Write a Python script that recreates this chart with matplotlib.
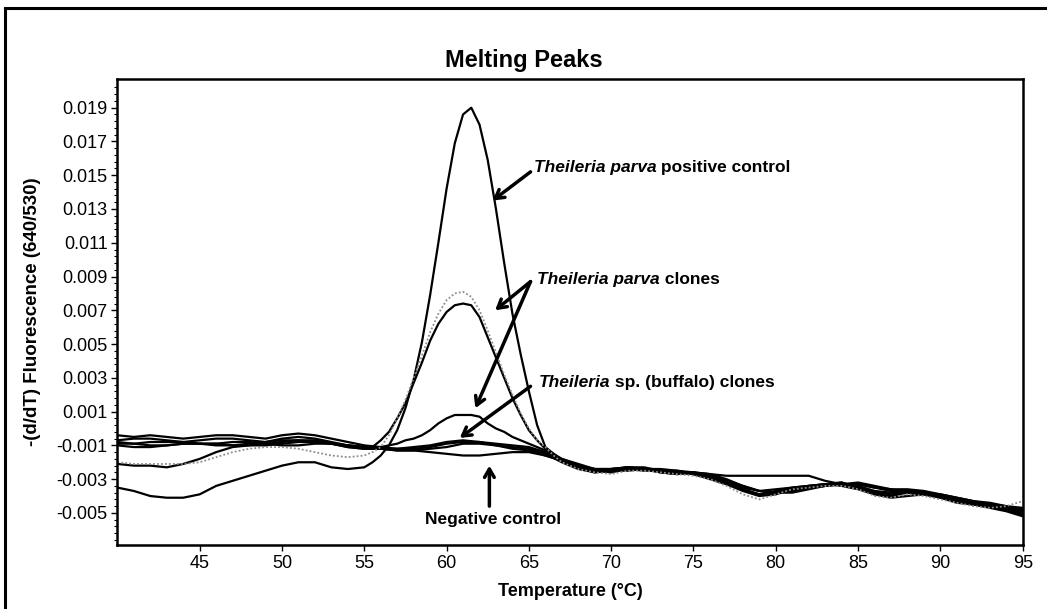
import numpy as np
import matplotlib
matplotlib.use('Agg')
import matplotlib.pyplot as plt
from matplotlib.patches import Rectangle
from matplotlib.ticker import FixedLocator

plt.rcParams['font.family'] = ['Liberation Sans', 'DejaVu Sans']

# temperature grids (deg C): coarse for flat traces, finer around the melting peak
temp_coarse = np.arange(40, 96, 1.0)
temp_fine = np.concatenate([np.arange(40, 56, 1.0), np.arange(55.5, 67.5, 0.5), np.arange(68, 96, 1.0)])

# -(d/dT) fluorescence
positive_control = [
  -0.0035, -0.0037, -0.0040, -0.0041, -0.0041, -0.0039, -0.0034, -0.0031, -0.0028, -0.0025,
  -0.0022, -0.0020, -0.0020, -0.0023, -0.0024, -0.0023,
  -0.0020, -0.0016, -0.0010, -0.0001, 0.0012, 0.0029, 0.0051, 0.0079, 0.0110, 0.0142,
  0.0169, 0.0186, 0.0190, 0.0180, 0.0159, 0.0130, 0.0098, 0.0068, 0.0044, 0.0022,
  0.0002, -0.0011, -0.0015, -0.0018,
  -0.0022, -0.0025, -0.0026, -0.0024, -0.0024, -0.0025, -0.0026, -0.0027, -0.0029, -0.0032,
  -0.0036, -0.0039, -0.0038, -0.0036, -0.0035, -0.0034, -0.0033, -0.0034, -0.0037, -0.0038,
  -0.0037, -0.0038, -0.0040, -0.0043, -0.0044, -0.0046, -0.0047, -0.0050]

clone_a = [
  -0.0021, -0.0022, -0.0022, -0.0023, -0.0021, -0.0018, -0.0014, -0.0011, -0.0010, -0.0010,
  -0.0009, -0.0008, -0.0008, -0.0009, -0.0010, -0.0011,
  -0.0011, -0.0007, -0.0002, 0.0006, 0.0015, 0.0027, 0.0039, 0.0052, 0.0062, 0.0069,
  0.0073, 0.0074, 0.0073, 0.0066, 0.0054, 0.0042, 0.0030, 0.0018, 0.0008, -0.0001,
  -0.0007, -0.0012, -0.0015, -0.0019,
  -0.0023, -0.0026, -0.0025, -0.0023, -0.0024, -0.0026, -0.0027, -0.0026, -0.0028, -0.0031,
  -0.0035, -0.0037, -0.0036, -0.0035, -0.0034, -0.0033, -0.0032, -0.0035, -0.0039, -0.0040,
  -0.0038, -0.0039, -0.0041, -0.0043, -0.0045, -0.0046, -0.0048, -0.0051]

clone_b = [
  -0.0020, -0.0021, -0.0021, -0.0021, -0.0021, -0.0020, -0.0017, -0.0014, -0.0012, -0.0011,
  -0.0011, -0.0012, -0.0014, -0.0016, -0.0017, -0.0016,
  -0.0014, -0.0011, -0.0004, 0.0006, 0.0017, 0.0030, 0.0043, 0.0057, 0.0068, 0.0076,
  0.0080, 0.0081, 0.0078, 0.0070, 0.0058, 0.0045, 0.0032, 0.0020, 0.0009, 0.0000,
  -0.0007, -0.0011, -0.0016, -0.0020,
  -0.0024, -0.0026, -0.0027, -0.0025, -0.0025, -0.0026, -0.0027, -0.0028, -0.0030, -0.0034,
  -0.0039, -0.0042, -0.0039, -0.0036, -0.0035, -0.0034, -0.0034, -0.0036, -0.0040, -0.0041,
  -0.0039, -0.0040, -0.0042, -0.0044, -0.0046, -0.0047, -0.0046, -0.0043]

clone_c = [
  -0.0008, -0.0009, -0.0010, -0.0010, -0.0009, -0.0009, -0.0009, -0.0010, -0.0010, -0.0008,
  -0.0007, -0.0007, -0.0008, -0.0009, -0.0011, -0.0012,
  -0.0012, -0.0011, -0.0010, -0.0009, -0.0007, -0.0006, -0.0004, -0.0001, 0.0003, 0.0006,
  0.0008, 0.0008, 0.0008, 0.0007, 0.0003, 0.0000, -0.0002, -0.0005, -0.0007, -0.0009,
  -0.0011, -0.0013, -0.0016, -0.0018,
  -0.0021, -0.0024, -0.0024, -0.0023, -0.0023, -0.0025, -0.0025, -0.0026, -0.0027, -0.0028,
  -0.0028, -0.0028, -0.0028, -0.0028, -0.0028, -0.0031, -0.0033, -0.0033, -0.0035, -0.0036,
  -0.0036, -0.0037, -0.0039, -0.0041, -0.0043, -0.0045, -0.0046, -0.0048]

buffalo_1 = [
  -0.0004, -0.0005, -0.0004, -0.0005, -0.0006, -0.0005, -0.0004, -0.0004, -0.0005, -0.0006,
  -0.0004, -0.0003, -0.0004, -0.0006, -0.0008, -0.0010, -0.0011, -0.0012, -0.0011, -0.0010,
  -0.0008, -0.0007, -0.0008, -0.0009, -0.0010, -0.0011, -0.0014, -0.0019, -0.0023, -0.0025,
  -0.0025, -0.0024, -0.0025, -0.0025, -0.0026, -0.0027, -0.0029, -0.0032, -0.0036, -0.0039,
  -0.0037, -0.0035, -0.0034, -0.0033, -0.0032, -0.0035, -0.0038, -0.0039, -0.0038, -0.0039,
  -0.0041, -0.0044, -0.0045, -0.0046, -0.0048, -0.0050]

buffalo_2 = [
  -0.0007, -0.0006, -0.0006, -0.0007, -0.0008, -0.0007, -0.0006, -0.0006, -0.0007, -0.0008,
  -0.0006, -0.0005, -0.0006, -0.0008, -0.0010, -0.0011, -0.0012, -0.0012, -0.0012, -0.0011,
  -0.0009, -0.0008, -0.0008, -0.0010, -0.0011, -0.0012, -0.0015, -0.0020, -0.0024, -0.0026,
  -0.0024, -0.0023, -0.0024, -0.0026, -0.0027, -0.0026, -0.0028, -0.0031, -0.0034, -0.0037,
  -0.0038, -0.0037, -0.0035, -0.0034, -0.0033, -0.0033, -0.0035, -0.0037, -0.0037, -0.0038,
  -0.0040, -0.0042, -0.0044, -0.0046, -0.0047, -0.0049]

buffalo_3 = [
  -0.0010, -0.0011, -0.0011, -0.0010, -0.0009, -0.0009, -0.0010, -0.0010, -0.0009, -0.0009,
  -0.0010, -0.0010, -0.0009, -0.0009, -0.0010, -0.0011, -0.0012, -0.0013, -0.0013, -0.0012,
  -0.0011, -0.0009, -0.0009, -0.0010, -0.0012, -0.0013, -0.0016, -0.0019, -0.0022, -0.0024,
  -0.0025, -0.0025, -0.0024, -0.0024, -0.0025, -0.0027, -0.0030, -0.0033, -0.0037, -0.0040,
  -0.0039, -0.0036, -0.0034, -0.0033, -0.0034, -0.0036, -0.0039, -0.0041, -0.0040, -0.0039,
  -0.0040, -0.0043, -0.0045, -0.0047, -0.0049, -0.0052]

negative_control = [
  -0.0009, -0.0009, -0.0008, -0.0008, -0.0008, -0.0009, -0.0009, -0.0008, -0.0008, -0.0009,
  -0.0008, -0.0007, -0.0007, -0.0009, -0.0011, -0.0012, -0.0012, -0.0013, -0.0013, -0.0014,
  -0.0015, -0.0016, -0.0016, -0.0015, -0.0014, -0.0014, -0.0016, -0.0019, -0.0023, -0.0024,
  -0.0024, -0.0023, -0.0024, -0.0025, -0.0026, -0.0026, -0.0027, -0.0030, -0.0034, -0.0037,
  -0.0038, -0.0038, -0.0036, -0.0034, -0.0033, -0.0032, -0.0034, -0.0036, -0.0038, -0.0038,
  -0.0039, -0.0041, -0.0043, -0.0044, -0.0046, -0.0047]

y_ticks = [-0.005, -0.003, -0.001, 0.001, 0.003, 0.005, 0.007, 0.009, 0.011, 0.013, 0.015, 0.017, 0.019]
x_ticks = [45, 50, 55, 60, 65, 70, 75, 80, 85, 90, 95]

fig = plt.figure(figsize=(10.47, 6.09), dpi=100)
ax = fig.add_axes([0.1121, 0.1051, 0.8647, 0.7652])

# outer frame of the exported panel
fig.patches.append(Rectangle((0.005, -0.05), 1.2, 1.05 - 8 / 609, transform=fig.transFigure,
                             fill=False, edgecolor='black', linewidth=2.2))

for series in [buffalo_1, buffalo_2, buffalo_3, negative_control]:
  ax.plot(temp_coarse, series, color='black', lw=1.6)
for series in [positive_control, clone_a, clone_c]:
  ax.plot(temp_fine, series, color='black', lw=1.6)
ax.plot(temp_fine, clone_b, color='0.55', lw=1.3, linestyle=(0, (1, 1.2)))

ax.set_xlim(40, 95)
ax.set_ylim(-0.0069, 0.0207)
ax.xaxis.set_major_locator(FixedLocator(x_ticks))
ax.yaxis.set_major_locator(FixedLocator(y_ticks))
ax.yaxis.set_minor_locator(FixedLocator(np.arange(-0.0066, 0.0206, 0.0004)))
ax.set_yticklabels(['%.3f' % v for v in y_ticks], fontsize=13)
ax.set_xticklabels([str(v) for v in x_ticks], fontsize=13)
ax.tick_params(axis='both', which='major', direction='out', length=4, width=1, pad=3)
ax.tick_params(axis='y', which='minor', direction='out', length=2, width=0.8)
for spine in ax.spines.values():
  spine.set_linewidth(1.8)

fig.text(0.5, 1 - 60 / 609, 'Melting Peaks', ha='center', va='center', fontsize=17,
         fontweight='heavy')
fig.text(0.545, 1 - 592 / 609, 'Temperature (\u00b0C)', ha='center', va='center', fontsize=13,
         fontweight='bold')
fig.text(0.031, 1 - 312 / 609, '-(d/dT) Fluorescence (640/530)', ha='center', va='center',
         rotation=90, fontsize=13.5, fontweight='bold')


def label(x, y, italic, rest):
  first = ax.text(x, y, italic, fontsize=12.5, fontweight='bold', style='italic', va='bottom')
  ax.annotate(rest, xy=(1, 0), xycoords=first, fontsize=12.5, fontweight='bold', va='bottom')


label(65.3, 0.0150, 'Theileria parva', ' positive control')
label(65.5, 0.0084, 'Theileria parva', ' clones')
label(65.6, 0.0023, 'Theileria', ' sp. (buffalo) clones')
ax.text(62.8, -0.0054, 'Negative control', fontsize=12.5, fontweight='bold', ha='center', va='center')

arrow = dict(arrowstyle='->, head_length=0.6, head_width=0.35', lw=2.5, color='black',
             shrinkA=0, shrinkB=0)
ax.annotate('', xy=(62.8, 0.0135), xytext=(65.1, 0.0152), arrowprops=arrow)
ax.annotate('', xy=(62.95, 0.0070), xytext=(65.1, 0.0087), arrowprops=arrow)
ax.annotate('', xy=(61.75, 0.0012), xytext=(65.1, 0.0087), arrowprops=arrow)
ax.annotate('', xy=(60.8, -0.00056), xytext=(65.1, 0.0025), arrowprops=arrow)
ax.annotate('', xy=(62.6, -0.0022), xytext=(62.6, -0.0046), arrowprops=arrow)

fig.savefig('out.png', dpi=100)
